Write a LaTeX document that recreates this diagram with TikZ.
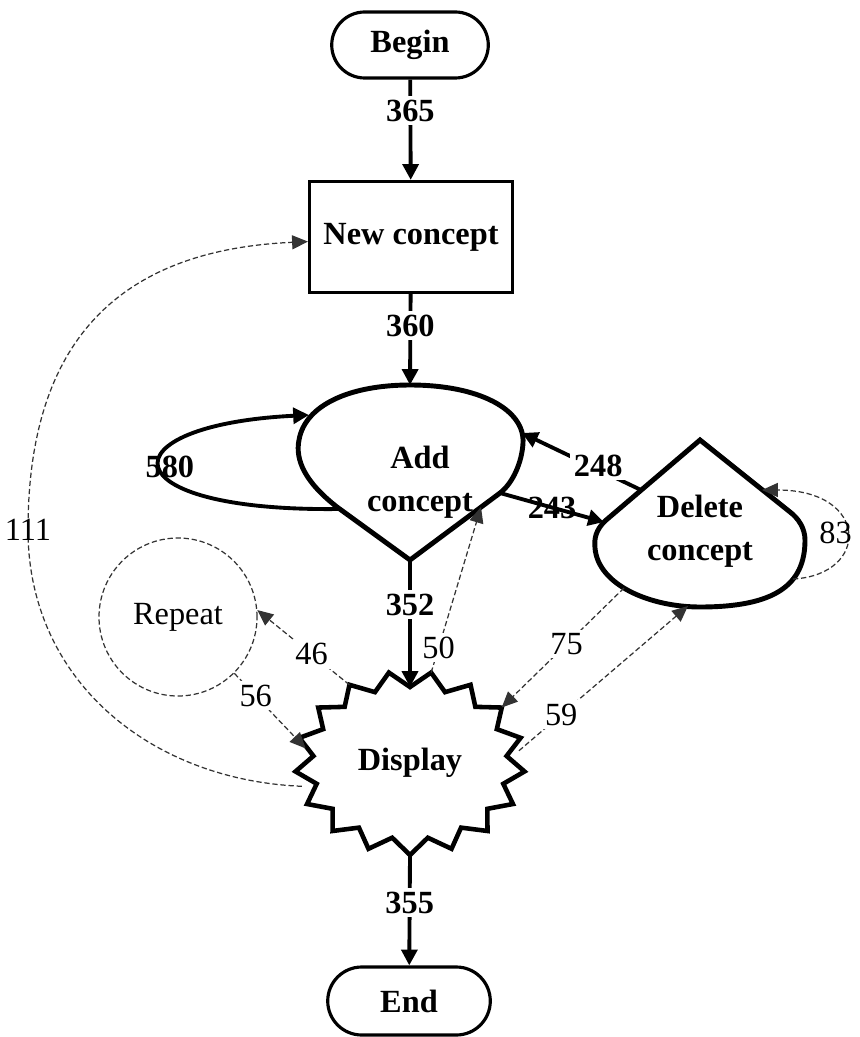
\documentclass[tikz,border=0pt]{standalone}
\usepackage{fontspec}
\setmainfont{Liberation Serif}
\usetikzlibrary{shapes.misc,arrows.meta,calc}

\newcommand{\chartfont}{\fontsize{9.2}{12.2}\selectfont}

\tikzset{
  terminal/.style={draw, rounded rectangle, line width=0.9pt, minimum width=1.8cm, minimum height=0.66cm, font=\chartfont\bfseries},
  process/.style={draw, line width=0.9pt, minimum width=2.03cm, minimum height=1.11cm, font=\chartfont\bfseries},
  caption/.style={align=center, font=\chartfont\bfseries},
  repeatnode/.style={draw=black!80, circle, dash pattern=on 1.5pt off 0.8pt, line width=0.35pt, minimum size=1.58cm, font=\chartfont},
  outline/.style={line width=1.4pt},
  flow/.style={-{Triangle[length=4.5pt,width=4.5pt]}, line width=1.1pt},
  thinflow/.style={-{Triangle[length=4.5pt,width=4pt]}, draw=black!80, line width=0.35pt, dash pattern=on 1.5pt off 0.8pt},
  count/.style={font=\chartfont\bfseries, inner sep=1pt},
  tally/.style={font=\chartfont, inner sep=1pt},
}

\begin{document}
\begin{tikzpicture}
  \useasboundingbox (0,0) rectangle (8.59,-10.37);

  % Nodes
  \node[terminal] (begin) at (4.10,-0.45) {Begin};
  \node[process] (new) at (4.11,-2.37) {New concept};
  \node[caption] (add) at (4.20,-4.82) {Add\\concept};
  \node[caption] (del) at (7.00,-5.31) {Delete\\concept};
  \node[repeatnode] (rep) at (1.78,-6.17) {Repeat};
  \node[caption] (disp) at (4.10,-7.63) {Display};
  \node[terminal, minimum width=1.86cm, minimum height=0.68cm] (end) at (4.09,-10.01) {End};

  % Add concept (drop pointing down)
  \draw[outline] (4.10,-5.60) -- (3.37,-5.07)
    .. controls (3.05,-4.82) and (2.95,-4.60) .. (2.99,-4.40)
    .. controls (3.05,-4.05) and (3.50,-3.85) .. (4.10,-3.85)
    .. controls (4.80,-3.85) and (5.25,-4.10) .. (5.23,-4.43)
    .. controls (5.22,-4.62) and (5.13,-4.83) .. (5.00,-4.93) -- cycle;
  \coordinate (add-top) at (4.10,-3.85);
  \coordinate (add-bot) at (4.10,-5.60);
  \coordinate (add-lo) at (3.40,-5.09);
  \coordinate (add-hi) at (3.09,-4.15);
  \coordinate (add-e) at (5.00,-4.93);
  \coordinate (add-ne) at (5.22,-4.33);
  \coordinate (add-se) at (4.81,-5.07);

  % Delete concept (drop pointing up)
  \draw[outline] (7.00,-4.40) -- (6.05,-5.21)
    .. controls (5.96,-5.30) and (5.94,-5.38) .. (5.95,-5.48)
    .. controls (5.98,-5.85) and (6.50,-6.07) .. (7.00,-6.07)
    .. controls (7.75,-6.07) and (8.05,-5.85) .. (8.05,-5.40)
    .. controls (8.05,-5.28) and (7.98,-5.18) .. (7.90,-5.12) -- cycle;
  \coordinate (del-w) at (6.04,-5.22);
  \coordinate (del-nw) at (6.41,-4.90);
  \coordinate (del-ne) at (7.62,-4.90);
  \coordinate (del-se) at (7.93,-5.79);
  \coordinate (del-sw) at (6.24,-5.88);
  \coordinate (del-s) at (6.88,-6.06);

  % Display (zigzag star)
  \draw[outline, line width=1.3pt] ($(disp)+(270:1.15 and 0.92)$)
    \foreach \k in {0,...,16} {
      -- ($(disp)+({270+(\k+0.5)*360/17}:0.97 and 0.76)$)
      -- ($(disp)+({270+(\k+1)*360/17}:1.15 and 0.92)$)
    } -- cycle;

  % Main flow
  \draw[flow] (begin) -- node[count, fill=white, pos=0.31] {365} (new);
  \draw[flow] (new) -- node[count, fill=white, pos=0.35] {360} (add-top);
  \draw[flow] (add-bot) -- node[count, fill=white, pos=0.35] {352} ($(disp)+(0,0.76)$);
  \draw[flow] ($(disp)+(270:1.15 and 0.92)$) -- node[count, fill=white, pos=0.43] {355} (end);

  % Add and delete
  \draw[flow] (add-lo) .. controls (1.05,-5.12) and (1.05,-4.25) .. node[count, pos=0.5, xshift=0.1cm] {580} (add-hi);
  \draw[flow] (add-e) -- node[count, pos=0.5] {243} (del-w);
  \draw[flow] (del-nw) -- node[count, fill=white, pos=0.36, yshift=0.04cm] {248} (add-ne);
  \draw[thinflow] (del-se) .. controls (8.70,-5.75) and (8.70,-4.90) .. node[tally, pos=0.5, anchor=east, xshift=0.09cm] {83} (del-ne);

  % Display links
  \draw[thinflow] ($(disp)+(79.4:1.15 and 0.92)$) -- node[tally, fill=white, pos=0.15] {50} (add-se);
  \draw[thinflow] ($(disp)+(121.8:1.15 and 0.92)$) -- node[tally, fill=white, pos=0.41] {46} (rep.5);
  \draw[thinflow] (rep.-45) -- node[tally, fill=white, pos=0.3] {56} ($(disp)+(170:1.06 and 0.84)$);
  \draw[thinflow] (del-sw) -- node[tally, fill=white, pos=0.47] {75} ($(disp)+(37.1:1.15 and 0.92)$);
  \draw[thinflow] ($(disp)+(8:1.1 and 0.88)$) -- node[tally, fill=white, pos=0.25] {59} (del-s);
  \draw[thinflow] ($(disp)+(195:1.12 and 0.9)$) .. controls (1.50,-7.80) and (0.28,-6.80) .. node[tally, pos=1] {111} (0.28,-5.30)
    .. controls (0.28,-3.40) and (1.20,-2.50) .. (new);
\end{tikzpicture}
\end{document}
